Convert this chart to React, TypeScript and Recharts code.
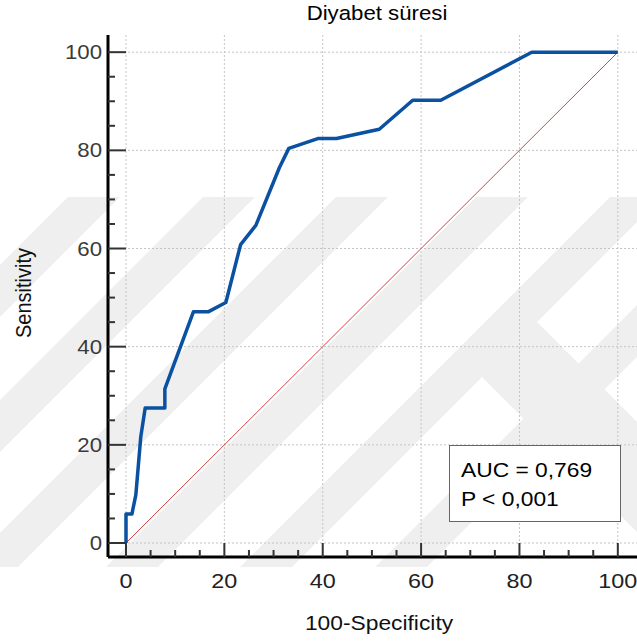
import React from 'react';
import { LineChart, Line, XAxis, YAxis, ReferenceLine } from 'recharts';

const fpr = [0, 0, 1.2, 2.0, 3.0, 3.9, 7.9, 7.9, 13.7, 16.7, 20.3, 23.3, 26.4, 31.2, 33.1, 39.0, 42.8, 51.5, 58.3, 64.0, 82.5, 100];
const tpr = [0, 5.9, 5.9, 9.8, 21.6, 27.5, 27.5, 31.4, 47.1, 47.1, 49.0, 60.8, 64.7, 76.5, 80.4, 82.4, 82.4, 84.3, 90.2, 90.2, 100, 100];
const refX = [0, 100];
const refY = [0, 100];
const tickValues = [0, 5, 10, 15, 20, 25, 30, 35, 40, 45, 50, 55, 60, 65, 70, 75, 80, 85, 90, 95, 100];
const gridValues = [0, 20, 40, 60, 80, 100];
const title = 'Diyabet süresi';
const xTitle = '100-Specificity';
const yTitle = 'Sensitivity';
const aucText = 'AUC = 0,769';
const pText = 'P < 0,001';

const rocData = fpr.map((x, i) => ({ x, y: tpr[i] }));
const refData = refX.map((x, i) => ({ x, y: refY[i] }));

// faint background watermark (decoration, not data)
const wmTops = [68, 203, 336, 476, 610, 745];
const WM_TOP = 197;
const WM_BOTTOM = 567;
const WM_W = 52;

const FONT = '"Liberation Sans", Arial, sans-serif';
const SX = 1.14;

const XTick = (props: any) => {
  const { x, y, payload } = props;
  const v = payload.value;
  const major = v % 20 === 0;
  return (
    <g>
      <line x1={x} y1={y} x2={x} y2={y - (major ? 14 : 7)} stroke="#333" strokeWidth={2} />
      {major && (
        <text transform={`translate(${x},${y + 31}) scale(${SX},1)`} textAnchor="middle" fontSize={20.5} fontFamily={FONT} fill="#222">
          {v}
        </text>
      )}
    </g>
  );
};

const YTick = (props: any) => {
  const { x, y, payload } = props;
  const v = payload.value;
  const major = v % 20 === 0;
  return (
    <g>
      <line x1={x} y1={y} x2={x + (major ? 18 : 7)} y2={y} stroke="#333" strokeWidth={2} />
      {major && (
        <text transform={`translate(${x - 6},${y + 7}) scale(${SX},1)`} textAnchor="end" fontSize={19.5} fontFamily={FONT} fill="#3a3a3a">
          {v}
        </text>
      )}
    </g>
  );
};

const Watermark = () => {
  const h = WM_BOTTOM - WM_TOP;
  const bands = wmTops.map((t) => {
    const pts = [
      [t, WM_TOP],
      [t + WM_W, WM_TOP],
      [t + WM_W - h, WM_BOTTOM],
      [t - h, WM_BOTTOM],
    ];
    return pts.map((p) => p.join(',')).join(' ');
  });
  // one "\" leg branching from the fifth band
  const legTop = 322;
  const legX = wmTops[4] + WM_W - (legTop - WM_TOP);
  const legH = WM_BOTTOM - legTop;
  const leg = [
    [legX, legTop],
    [legX - 55, legTop + 55],
    [legX - 55 + (legH - 55), WM_BOTTOM],
    [legX + legH, WM_BOTTOM],
  ]
    .map((p) => p.join(','))
    .join(' ');
  return (
    <svg width={637} height={644} style={{ position: 'absolute', left: 0, top: 0 }}>
      {bands.map((b, i) => (
        <polygon key={i} points={b} fill="#efefef" />
      ))}
      <polygon points={leg} fill="#efefef" />
    </svg>
  );
};

export default function App() {
  return (
    <div style={{ position: 'absolute', left: 0, top: 0, width: 637, height: 644, background: '#fff', overflow: 'hidden' }}>
      <Watermark />
      <div style={{ position: 'absolute', left: 0, top: 0 }}>
        <LineChart width={637} height={644} margin={{ top: 35, right: 0, bottom: 57, left: 48 }}>
          <XAxis
            type="number"
            dataKey="x"
            domain={[-3.66, 103.9]}
            ticks={tickValues}
            allowDataOverflow
            height={30}
            tickSize={0}
            tickMargin={0}
            tick={<XTick />}
            axisLine={{ stroke: '#000', strokeWidth: 3 }}
            interval={0}
          />
          <YAxis
            type="number"
            dataKey="y"
            domain={[-2.85, 103.5]}
            ticks={tickValues}
            allowDataOverflow
            width={60}
            tickSize={0}
            tickMargin={0}
            tick={<YTick />}
            axisLine={{ stroke: '#000', strokeWidth: 3 }}
            interval={0}
          />
          {gridValues.map((g) => (
            <ReferenceLine key={'vx' + g} x={g} stroke="#c4c4c4" strokeDasharray="2 2" strokeWidth={1} />
          ))}
          {gridValues.map((g) => (
            <ReferenceLine key={'hy' + g} y={g} stroke="#c4c4c4" strokeDasharray="2 2" strokeWidth={1} />
          ))}
          <Line data={refData} dataKey="y" type="linear" stroke="#d04545" strokeWidth={1} dot={false} isAnimationActive={false} />
          <Line data={rocData} dataKey="y" type="linear" stroke="#0a51a1" strokeWidth={3.5} strokeLinejoin="round" dot={false} isAnimationActive={false} />
        </LineChart>
      </div>
      <svg width={637} height={644} style={{ position: 'absolute', left: 0, top: 0, pointerEvents: 'none' }}>
        <text transform={`translate(377,20) scale(${SX},1)`} textAnchor="middle" fontSize={19.5} fontFamily={FONT} fill="#000">
          {title}
        </text>
        <text transform={`translate(379,630) scale(${SX},1)`} textAnchor="middle" fontSize={20} fontFamily={FONT} fill="#111">
          {xTitle}
        </text>
        <text transform={`translate(31,293) rotate(-90) scale(1,${SX})`} textAnchor="middle" fontSize={20} fontFamily={FONT} fill="#111">
          {yTitle}
        </text>
        <rect x={449.5} y={445.5} width={171} height={76} fill="#fff" stroke="#666" strokeWidth={1} />
        <text transform={`translate(461,477) scale(${SX},1)`} fontSize={20} fontFamily={FONT} fill="#000">
          {aucText}
        </text>
        <text transform={`translate(461,506) scale(${SX},1)`} fontSize={20} fontFamily={FONT} fill="#000">
          {pText}
        </text>
      </svg>
    </div>
  );
}
